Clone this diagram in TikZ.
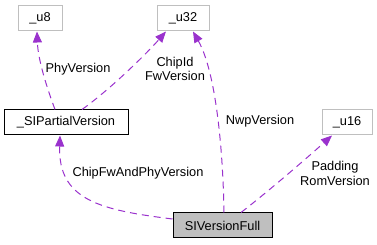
\documentclass[tikz,border=0pt]{standalone}
\usepackage{fontspec}
\setmainfont{Liberation Sans}
\usetikzlibrary{arrows.meta}
\definecolor{edgepurple}{HTML}{9A32CD}
\definecolor{lightframe}{HTML}{BFBFBF}
\definecolor{fullfill}{HTML}{BFBFBF}
\begin{document}
\begin{tikzpicture}[x=1pt,y=-1pt,
  every node/.style={font=\fontsize{12.8}{14.5}\selectfont},
  cls/.style={draw=lightframe, line width=1pt, fill=white, inner sep=0pt, minimum height=25pt},
  partcls/.style={draw=black, line width=1pt, fill=white, inner sep=0pt, minimum height=25pt},
  fullcls/.style={draw=black, line width=1pt, fill=fullfill, inner sep=0pt, minimum height=25pt},
  usage/.style={draw=edgepurple, line width=1pt, dash pattern=on 7pt off 5pt,
    -{Triangle[length=11pt,width=9pt]}, shorten >=0pt},
  lbl/.style={align=center, inner sep=0pt}]
\useasboundingbox (0,0) rectangle (377,245);

% classes
\node[cls, minimum width=44pt] (u8) at (40,18.5) {\_u8};
\node[cls, minimum width=52pt] (u32) at (183,18.5) {\_u32};
\node[partcls, minimum width=124pt] (part) at (66,122.5) {\_SIPartialVersion};
\node[cls, minimum width=50pt] (u16) at (347,122.5) {\_u16};
\node[fullcls, minimum width=99pt] (full) at (222.5,225.5) {SIVersionFull};

% member relations
\draw[usage] (part.north -| 55,0) .. controls (47,88) and (38,60) .. (u8.south -| 37,0);
\draw[usage] (part.north -| 82,0) .. controls (112,88) and (148,52) .. (u32.south -| 166,0);
\draw[usage] (full.north -| 224,0) .. controls (223,150) and (216,72) .. (u32.south -| 193,0);
\draw[usage] (full.north -| 241,0) .. controls (270,190) and (308,157) .. (u16.south -| 332,0);
\draw[usage] (full.west |- 0,219) .. controls (100,210) and (58,200) .. (part.south -| 60,0);

% relation labels
\node[lbl] (l1) at (78,69) {PhyVersion};
\node[lbl] (l2) at (175,69) {ChipId\\FwVersion};
\node[lbl] (l3) at (260,121) {NwpVersion};
\node[lbl] (l4) at (335,173.5) {Padding\\RomVersion};
\node[lbl] (l5) at (138,173) {ChipFwAndPhyVersion};
\end{tikzpicture}
\end{document}
